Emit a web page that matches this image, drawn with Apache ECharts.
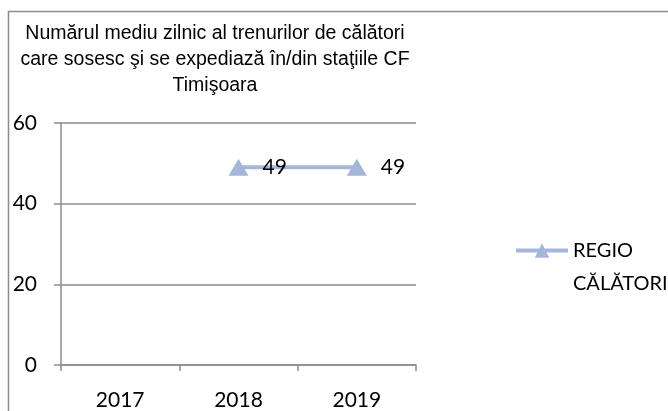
<!DOCTYPE html>
<html>
<head>
<meta charset="utf-8">
<script src="https://cdn.jsdelivr.net/npm/echarts@6/dist/echarts.min.js"></script>
<style>
  html, body { margin: 0; padding: 0; background: #fff; }
  #grafic { width: 668px; height: 411px; }
</style>
</head>
<body>
<div id="grafic"></div>
<script>
// date
const ani = ['2017', '2018', '2019']
const regioCalatori = ['-', 49, 49]
const numeSerie = 'REGIO CĂLĂTORI'
const titlu = 'Numărul mediu zilnic al trenurilor de călători\ncare sosesc şi se expediază în/din staţiile CF\nTimişoara'

const grafic = echarts.init(document.getElementById('grafic'))

const gri = '#8c8c8c'
const culoareLinie = '#a5b7d9'

grafic.setOption({
  animation: false,
  title: {
    text: titlu,
    left: 210,
    top: 16,
    textAlign: 'center',
    textStyle: {
      fontFamily: 'Liberation Sans',
      fontSize: 19.5,
      fontWeight: 'normal',
      color: '#000',
      lineHeight: 26
    }
  },
  graphic: [
    {
      type: 'rect',
      shape: { x: 8.5, y: 11.5, width: 700, height: 500 },
      style: { fill: 'none', stroke: gri, lineWidth: 1.5 },
      silent: true
    }
  ],
  legend: {
    orient: 'vertical',
    left: 514,
    top: 201,
    padding: 0,
    itemWidth: 52,
    itemHeight: 18,
    itemGap: 0,
    data: [numeSerie],
    // linie goala sus ca "REGIO" sa stea in dreptul simbolului
    formatter: nume => '\n' + nume.replace(' ', '\n'),
    lineStyle: { width: 4 },
    textStyle: {
      fontFamily: 'Lato',
      fontSize: 20,
      color: '#000',
      lineHeight: 33
    }
  },
  grid: {
    left: 61,
    right: 252,
    top: 123,
    bottom: 42
  },
  xAxis: {
    type: 'category',
    data: ani,
    boundaryGap: true,
    axisLine: { lineStyle: { color: gri, width: 1.5 } },
    axisTick: { show: true, length: 6, interval: 0, lineStyle: { color: gri, width: 1.5 } },
    axisLabel: {
      fontFamily: 'Lato',
      fontSize: 21,
      color: '#000',
      margin: 25
    }
  },
  yAxis: {
    type: 'value',
    min: 0,
    max: 60,
    interval: 20,
    axisLine: { show: true, lineStyle: { color: gri, width: 1.5 } },
    axisTick: { show: true, length: 7, lineStyle: { color: gri, width: 1.5 } },
    splitLine: { lineStyle: { color: gri, width: 1.5 } },
    axisLabel: {
      fontFamily: 'Lato',
      fontSize: 21,
      color: '#000',
      margin: 24
    }
  },
  series: [
    {
      name: numeSerie,
      type: 'line',
      data: regioCalatori,
      symbol: 'triangle',
      symbolSize: [20, 17],
      itemStyle: { color: culoareLinie },
      lineStyle: { color: culoareLinie, width: 4 },
      label: {
        show: true,
        position: 'right',
        distance: 14,
        fontFamily: 'Lato',
        fontSize: 21,
        color: '#000'
      }
    }
  ]
})
</script>
</body>
</html>
